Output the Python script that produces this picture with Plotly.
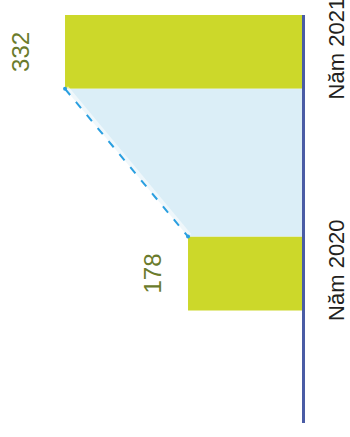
import plotly.graph_objects as go

# Data
years = ["Năm 2020", "Năm 2021"]
year_pos = [0, 1]
values = [178, 332]
value_labels = ["178", "332"]

# Styling
BAR_COLOR = "#ccd82a"
AXIS_COLOR = "#4a5ca5"
FILL_COLOR = "#dbeef7"
DASH_COLOR = "#2a9fe0"
LABEL_COLOR = "#6b7b2c"
BAR_WIDTH = 1 / 3
HALF = BAR_WIDTH / 2
BASE = 35.3          # value where the category axis sits
VALUE_MAX = 413.4
label_shift = [-36, -44]

fig = go.Figure()

# Shaded band joining the ends of the two bars
fig.add_trace(go.Scatter(
    x=[values[1], BASE, BASE, values[0]],
    y=[year_pos[1] - HALF, year_pos[1] - HALF, year_pos[0] + HALF, year_pos[0] + HALF],
    fill="toself", fillcolor=FILL_COLOR, mode="none",
    hoverinfo="skip", showlegend=False,
))

# Soft glow beside the growth line
fig.add_trace(go.Scatter(
    x=[values[1], values[0]],
    y=[year_pos[1] - HALF, year_pos[0] + HALF],
    mode="lines", line=dict(color="rgba(255,255,255,0.55)", width=8),
    hoverinfo="skip", showlegend=False,
))

# Dashed growth line between bar ends
fig.add_trace(go.Scatter(
    x=[values[1], values[0]],
    y=[year_pos[1] - HALF, year_pos[0] + HALF],
    mode="lines+markers",
    line=dict(color=DASH_COLOR, width=2, dash="8px,9px"),
    marker=dict(color=DASH_COLOR, size=4),
    hoverinfo="skip", showlegend=False,
))

# Bars
fig.add_trace(go.Bar(
    x=values, y=year_pos, orientation="h", base=0,
    width=BAR_WIDTH, marker=dict(color=BAR_COLOR, line=dict(width=0)),
    hoverinfo="skip", showlegend=False,
))

# Value labels
for v, yp, txt, dx in zip(values, year_pos, value_labels, label_shift):
    fig.add_annotation(
        x=v, y=yp, text=txt, showarrow=False, textangle=-90,
        xanchor="center", yanchor="middle", xshift=dx,
        font=dict(family="Liberation Sans, Arial, sans-serif", size=24, color=LABEL_COLOR),
    )

fig.update_layout(
    width=350, height=437,
    margin=dict(l=0, r=48, t=15, b=14, autoexpand=False),
    paper_bgcolor="white", plot_bgcolor="white",
    xaxis=dict(
        range=[VALUE_MAX, BASE], visible=False, fixedrange=True, automargin=False,
    ),
    yaxis=dict(
        range=[-0.675, 1 + HALF], side="right", automargin=False,
        tickvals=year_pos, ticktext=years, tickangle=-90,
        ticklabeloverflow="allow",
        showline=True, linecolor=AXIS_COLOR, linewidth=2.5,
        showgrid=False, zeroline=False, ticks="",
        ticklabelstandoff=13,
        tickfont=dict(family="Liberation Sans, Arial, sans-serif", size=22, color="#231f20"),
        fixedrange=True,
    ),
)

fig.write_html("out.html")
